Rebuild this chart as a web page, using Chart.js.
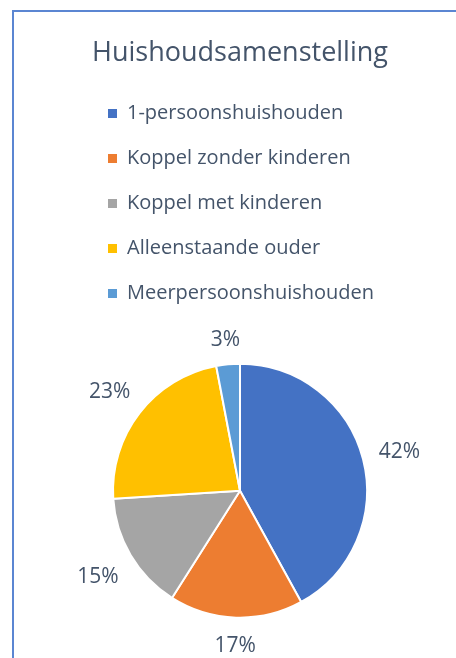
<!DOCTYPE html>
<html>
<head>
<meta charset="utf-8">
<script src="https://cdn.jsdelivr.net/npm/chart.js@4/dist/chart.umd.min.js"></script>
<style>
  html, body { margin: 0; background: #fff; overflow: hidden; width: 456px; height: 658px; }
  canvas { display: block; }
</style>
</head>
<body>
<canvas id="chart" width="456" height="668"></canvas>
<script>
const title = 'Huishoudsamenstelling'
const categories = ['1-persoonshuishouden', 'Koppel zonder kinderen', 'Koppel met kinderen', 'Alleenstaande ouder', 'Meerpersoonshuishouden']
const shares = [42, 17, 15, 23, 3]
const colors = ['#4472c4', '#ed7d31', '#a5a5a5', '#ffc000', '#5b9bd5']

const textColor = '#44546a'
const fontFamily = '"Open Sans", sans-serif'

// chart border of the Excel object; only its top and left edges are in view
const chartFrame = {
  id: 'chartFrame',
  beforeDraw (chart) {
    const { ctx, width, height } = chart
    ctx.save()
    ctx.fillStyle = '#5b86d2'
    ctx.fillRect(12, 10, width, 2)
    ctx.fillRect(12, 10, 2, height)
    ctx.restore()
  }
}

// percentage labels just outside each slice, like Excel's "outside end"
const outsideLabels = {
  id: 'outsideLabels',
  afterDatasetsDraw (chart) {
    const { ctx } = chart
    const meta = chart.getDatasetMeta(0)
    const values = chart.data.datasets[0].data
    const total = values.reduce((a, b) => a + b, 0)
    const size = 21
    const gap = 15
    ctx.save()
    ctx.font = `${size}px ${fontFamily}`
    ctx.fillStyle = textColor
    ctx.textAlign = 'center'
    ctx.textBaseline = 'middle'
    meta.data.forEach((arc, i) => {
      const { x, y, startAngle, endAngle, outerRadius } = arc.getProps(['x', 'y', 'startAngle', 'endAngle', 'outerRadius'], true)
      const mid = (startAngle + endAngle) / 2
      const text = Math.round(values[i] / total * 100) + '%'
      const w = ctx.measureText(text).width
      const dx = Math.cos(mid)
      const dy = Math.sin(mid)
      const d = outerRadius + gap + Math.abs(dx) * w / 2 + Math.abs(dy) * size / 2
      ctx.fillText(text, x + dx * d, y + dy * d + 2)
    })
    ctx.restore()
  }
}

const ctx = document.getElementById('chart').getContext('2d')
const chart = new Chart(ctx, {
  type: 'pie',
  data: {
    labels: categories,
    datasets: [{
      data: shares,
      backgroundColor: colors,
      borderColor: '#ffffff',
      borderWidth: 2,
      radius: 127
    }]
  },
  options: {
    responsive: false,
    animation: false,
    layout: { padding: { left: 83, right: 59, top: 0, bottom: 0 } },
    plugins: {
      title: {
        display: true,
        text: title,
        color: textColor,
        font: { family: fontFamily, size: 27, weight: 'normal' },
        padding: { top: 37, bottom: 9 }
      },
      legend: {
        position: 'top',
        align: 'start',
        labels: {
          color: textColor,
          font: { family: fontFamily, size: 20 },
          boxWidth: 9,
          boxHeight: 9,
          padding: 25,
          generateLabels: chart => Chart.overrides.pie.plugins.legend.labels.generateLabels(chart).map(l => ({ ...l, lineWidth: 0 }))
        }
      },
      tooltip: { enabled: false }
    }
  },
  plugins: [chartFrame, outsideLabels]
})
</script>
</body>
</html>
